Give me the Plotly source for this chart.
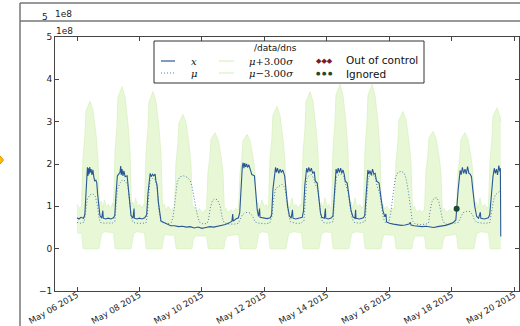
import plotly.graph_objects as go
import pandas as pd

BASE = pd.Timestamp("2015-05-06 00:00")
TITLE = "/data/dns"
Y_TICKS = [-1, 0, 1, 2, 3, 4, 5]
X_TICK_DATES = ["2015-05-06", "2015-05-08", "2015-05-10", "2015-05-12",
                "2015-05-14", "2015-05-16", "2015-05-18", "2015-05-20"]

# (hours after 2015-05-06 00:00, value in units of 1e8)
X_SERIES = [
    (0, 0.73), (1.5, 0.70), (3, 0.74), (5, 0.72), (6, 0.8), (6.8, 1.3), (7.5, 1.75), (8, 1.92), (8.4, 1.72),
    (8.8, 1.9), (9.3, 1.76), (9.8, 1.93), (10.3, 1.8), (10.8, 1.88), (11.5, 1.74), (12.2, 1.86), (13, 1.68),
    (13.6, 1.6), (14.5, 1.62), (15.2, 1.55), (15.8, 1.3), (16.6, 1.0), (17.6, 0.78), (19, 0.72), (19.8, 0.9),
    (20.2, 0.72), (22, 0.70), (24, 0.72), (26, 0.70), (28, 0.73),
    (29, 0.78), (30, 1.3), (31, 1.72), (32, 1.76), (33, 1.8), (33.6, 1.95), (34, 1.74), (34.6, 1.88),
    (35.3, 1.72), (36, 1.84), (37, 1.7), (38.5, 1.72), (39.5, 1.4), (40.5, 1.0), (41.5, 0.78), (43, 0.72),
    (43.8, 0.95), (44.1, 0.72), (46, 0.70), (48, 0.72), (50, 0.70), (52, 0.73),
    (53.5, 0.8), (54.5, 1.3), (55.5, 1.72), (56.2, 1.78), (57, 1.7), (58, 1.76), (59, 1.72), (60, 1.76),
    (60.6, 1.6), (61.5, 1.5), (62.5, 1.1), (63.5, 0.8), (64.5, 0.65), (66, 0.63), (68, 0.60), (70, 0.57),
    (72, 0.54),
    (75, 0.54), (78, 0.52), (81, 0.53), (84, 0.51), (87, 0.52), (90, 0.49), (93, 0.51), (96, 0.48),
    (99, 0.50), (102, 0.52), (105, 0.51), (108, 0.53), (111, 0.54), (114, 0.57), (117, 0.61), (119, 0.65),
    (119.6, 0.82), (120, 0.65), (122, 0.70), (124, 0.73),
    (125, 0.85), (126, 1.5), (127, 1.95), (127.6, 2.03), (128.2, 1.9), (128.8, 2.02), (129.5, 1.93),
    (130.3, 2.0), (131, 1.92), (132, 1.98), (133.3, 1.85), (134.3, 1.75), (136.3, 1.72), (137.4, 1.3),
    (138.4, 0.92), (139.4, 0.76), (140.2, 0.95), (140.6, 0.74), (143, 0.72), (146, 0.71), (148.5, 0.73),
    (149.5, 0.8), (150.5, 1.4), (151.8, 1.85), (152.5, 1.92), (153.2, 1.8), (154, 1.9), (155, 1.78),
    (156, 1.88), (157, 1.8), (158, 1.86), (159.5, 1.72), (160.5, 1.4), (161.8, 1.0), (163.2, 0.77),
    (164.5, 0.72), (165.5, 0.92), (165.9, 0.72), (168, 0.70), (171, 0.72), (173, 0.74),
    (174, 0.9), (175, 1.5), (176.4, 1.9), (177.2, 1.8), (178, 1.92), (179, 1.82), (180, 1.9), (181, 1.78),
    (182.2, 1.82), (183, 1.6), (184.5, 1.55), (185.5, 1.2), (187, 0.85), (188, 0.74), (190, 0.72),
    (190.8, 0.95), (191.1, 0.72), (193, 0.70), (195.5, 0.73), (196.6, 0.78),
    (197.5, 1.3), (199, 1.88), (199.8, 1.78), (200.6, 1.9), (201.5, 1.8), (202.5, 1.9), (203.4, 1.78),
    (204.3, 1.86), (205.3, 1.75), (206, 1.6), (207.5, 1.55), (209, 1.2), (210.5, 0.9), (212, 0.75),
    (213.5, 0.72), (214, 0.92), (214.3, 0.72), (217, 0.70), (220, 0.73), (221, 0.78),
    (222, 1.3), (223.4, 1.86), (224.2, 1.76), (225, 1.84), (226, 1.74), (227, 1.88), (228, 1.76),
    (229, 1.78), (230, 1.6), (232, 1.55), (233.5, 1.2), (235, 0.9), (236.5, 0.75), (237.3, 0.82),
    (237.8, 0.63), (240, 0.60), (243, 0.58),
    (246, 0.56), (249, 0.55), (252, 0.56), (255, 0.58), (256, 0.62), (256.6, 0.56), (259, 0.54),
    (262, 0.53), (265, 0.52), (268, 0.53), (271, 0.51), (274, 0.50), (277, 0.52), (280, 0.53),
    (283, 0.55), (286, 0.58), (289, 0.62), (291, 0.68),
    (291.6, 0.94), (292.8, 1.4), (294.3, 1.85), (295.1, 1.75), (296, 1.92), (297, 1.78), (298, 1.88),
    (299, 1.76), (300, 1.94), (301, 1.78), (302, 1.76), (303, 1.7), (304, 1.4), (305.5, 1.0), (307, 0.76),
    (308.5, 0.72), (309.8, 0.86), (310.2, 0.72), (313, 0.70), (316, 0.73),
    (317, 0.8), (318, 1.2), (319.5, 1.7), (320.5, 1.9), (321.3, 1.78), (322.2, 1.88), (323, 1.74),
    (324, 1.96), (324.8, 1.82), (325.2, 1.9), (325.5, 0.29),
]

MU_SERIES = [
    (0, 0.62), (3, 0.60), (5.5, 0.63), (6.8, 0.9), (8, 1.18), (10, 1.27), (12, 1.3), (14, 1.24),
    (15.5, 1.05), (16.8, 0.75), (18, 0.62), (21, 0.60), (24, 0.61), (27, 0.60), (29, 0.64),
    (30, 1.0), (31, 1.4), (33, 1.55), (35, 1.63), (37, 1.6), (39, 1.5), (40.5, 1.1), (41.8, 0.72),
    (43, 0.62), (46, 0.60), (50, 0.60), (53, 0.61),
    (54, 0.8), (55, 1.35), (56, 1.6), (58, 1.66), (60, 1.64), (61.5, 1.42), (63, 0.9), (64.5, 0.64),
    (67, 0.60), (70, 0.59), (72.5, 0.62),
    (74, 0.78), (75.5, 1.25), (77, 1.58), (79, 1.7), (82, 1.72), (85, 1.68), (87, 1.6), (88.5, 1.45),
    (90, 1.2), (92, 0.85), (94, 0.63), (97, 0.58), (100, 0.6),
    (101, 0.68), (102.5, 0.98), (104, 1.13), (106, 1.18), (108, 1.15), (110, 1.0), (111.5, 0.74),
    (113, 0.61), (117, 0.58), (121, 0.58), (124, 0.60),
    (125.5, 0.7), (127, 0.8), (129, 0.85), (131, 0.86), (133, 0.84), (135, 0.76), (136.8, 0.63),
    (140, 0.60), (144, 0.59), (148, 0.6),
    (149.8, 0.78), (151, 1.15), (152.5, 1.42), (155, 1.48), (157.5, 1.52), (159.5, 1.45), (161, 1.2),
    (162.5, 0.8), (164, 0.63), (168, 0.6), (172, 0.6), (174.3, 0.66),
    (175.2, 1.15), (176.5, 1.65), (178, 1.72), (180, 1.75), (182, 1.65), (183.3, 1.5), (185, 1.4),
    (186.3, 1.0), (187.5, 0.72), (189, 0.62), (193, 0.6), (196.8, 0.64),
    (197.8, 1.2), (199.3, 1.7), (201, 1.74), (203, 1.76), (205, 1.7), (206.3, 1.52), (208.5, 1.3),
    (210, 0.95), (211.3, 0.72), (212.8, 0.62), (217, 0.60), (221.3, 0.64),
    (222.3, 1.15), (223.8, 1.7), (225.5, 1.72), (227.5, 1.75), (229.3, 1.65), (230.5, 1.48), (232.5, 1.3),
    (234, 0.95), (235.3, 0.72), (236.8, 0.62), (239.5, 0.62),
    (241, 0.85), (242.8, 1.35), (244.5, 1.68), (246.5, 1.8), (249, 1.83), (251.5, 1.78), (253, 1.62),
    (254.5, 1.35), (256, 0.95), (257.5, 0.66), (260, 0.58), (264, 0.57), (268, 0.58), (270, 0.6),
    (271, 0.85), (272.5, 1.1), (274.5, 1.2), (276.5, 1.2), (278, 1.1), (279.5, 0.9), (280.8, 0.68),
    (282.5, 0.58), (286, 0.58), (290, 0.6), (293, 0.62),
    (294.5, 0.72), (296.5, 0.85), (299, 0.88), (302, 0.88), (303.8, 0.8), (305.3, 0.68), (307, 0.62),
    (312, 0.6), (317, 0.61),
    (318.5, 0.85), (320, 1.15), (321.5, 1.28), (323, 1.32), (324.5, 1.35), (325.5, 1.33),
]

UPPER_SERIES = [
    (0, 1.05), (1.5, 0.95), (3.5, 1.0), (4.6, 2.14), (6.1, 2.69), (6.9, 3.26), (10, 3.48), (12.3, 3.26),
    (14.6, 2.69), (16.1, 2.14), (17.2, 1.0),
    (18.5, 1.12), (20, 0.95), (21, 1.15), (22.5, 0.98), (24, 1.05), (26, 0.95), (27.5, 1.08),
    (28.1, 1.0), (29.2, 2.30), (30.7, 2.92), (31.5, 3.58), (34.6, 3.83), (36.9, 3.58), (39.2, 2.92),
    (40.7, 2.30), (41.8, 1.0),
    (43, 1.1), (44, 0.95), (45, 1.2), (46.5, 0.98), (48, 1.05), (50, 0.95), (51.5, 1.05),
    (51.9, 1.0), (53, 2.25), (54.5, 2.84), (55.3, 3.47), (58.4, 3.71), (60.7, 3.47), (63, 2.84),
    (64.5, 2.25), (65.6, 1.0),
    (67, 1.05), (68.5, 0.9), (70, 1.0), (72, 0.92), (74, 0.95),
    (74.9, 0.95), (76, 2.00), (77.5, 2.48), (78.3, 2.97), (81.4, 3.17), (83.7, 2.97), (86, 2.48),
    (87.5, 2.00), (88.6, 0.95),
    (90, 1.0), (92, 0.85), (94, 0.95), (96, 0.85), (98, 0.9),
    (99.5, 0.9), (100.6, 1.80), (102.1, 2.18), (102.9, 2.58), (106, 2.74), (108.3, 2.58), (110.6, 2.18),
    (112.1, 1.80), (113.2, 0.9),
    (114.5, 0.95), (116, 0.85), (118, 0.92), (120, 0.88), (122, 0.95), (123.5, 0.9),
    (124.1, 0.95), (125.2, 1.78), (126.7, 2.16), (127.5, 2.55), (130.6, 2.70), (132.9, 2.55),
    (135.2, 2.16), (136.7, 1.78), (137.8, 1.0),
    (139, 1.1), (140.5, 0.95), (142, 1.15), (144, 0.98), (145.5, 1.05), (146.5, 0.95),
    (147.1, 1.0), (148.2, 2.09), (149.7, 2.60), (150.5, 3.15), (153.6, 3.36), (155.9, 3.15),
    (158.2, 2.60), (159.7, 2.09), (160.8, 1.0),
    (162, 1.1), (163.5, 0.95), (165, 1.2), (166.5, 0.98), (168, 1.05), (170, 0.95), (171.5, 1.05),
    (172.5, 1.0), (173.6, 2.25), (175.1, 2.84), (175.9, 3.47), (179, 3.71), (181.3, 3.47), (183.6, 2.84),
    (185.1, 2.25), (186.2, 1.0),
    (187.5, 1.1), (189, 0.95), (190.5, 1.2), (192, 0.98), (193.5, 1.05), (194.5, 0.95),
    (195.5, 1.0), (196.6, 2.32), (198.1, 2.96), (198.9, 3.62), (202, 3.88), (204.3, 3.62), (206.6, 2.96),
    (208.1, 2.32), (209.2, 1.0),
    (210.5, 1.1), (212, 0.95), (213.5, 1.2), (215, 0.98), (217, 1.05), (219, 0.95),
    (220.1, 1.0), (221.2, 2.32), (222.7, 2.96), (223.5, 3.62), (226.6, 3.88), (228.9, 3.62),
    (231.2, 2.96), (232.7, 2.32), (233.8, 1.0),
    (235, 1.05), (236.5, 0.92), (238, 1.0), (240, 0.9), (242, 0.95),
    (243.9, 0.95), (245, 2.03), (246.5, 2.52), (247.3, 3.04), (250.4, 3.24), (252.7, 3.04), (255, 2.52),
    (256.5, 2.03), (257.6, 0.95),
    (259, 1.0), (261, 0.85), (263, 0.92), (265, 0.85), (266, 0.9),
    (266.9, 0.9), (268, 1.81), (269.5, 2.20), (270.3, 2.61), (273.4, 2.77), (275.7, 2.61), (278, 2.20),
    (279.5, 1.81), (280.6, 0.9),
    (282, 0.95), (284, 0.85), (286, 0.92), (288, 0.88), (290, 0.95),
    (291.5, 0.95), (292.6, 1.80), (294.1, 2.18), (294.9, 2.58), (298, 2.74), (300.3, 2.58), (302.6, 2.18),
    (304.1, 1.80), (305.2, 1.0),
    (306.5, 1.1), (308, 0.95), (309.5, 1.2), (311, 0.98), (313, 1.05), (315, 0.95),
    (316.1, 1.0), (317.2, 2.07), (318.7, 2.58), (319.5, 3.12), (322.6, 3.33), (324.9, 3.12), (325.5, 3.0),
]

LOWER_SERIES = [
    (0, 0.38), (2, 0.36), (3.5, 0.38), (4.2, 0.15), (4.8, 0), (16.8, 0), (17.5, 0.15), (19, 0.36), (21, 0.4),
    (28.1, 0.38), (28.8, 0.15), (29.4, 0), (41.4, 0), (42.1, 0.15), (43.6, 0.36), (46, 0.4),
    (51.9, 0.38), (52.6, 0.15), (53.2, 0), (65.2, 0), (65.9, 0.15), (67.4, 0.34), (70, 0.32),
    (74.9, 0.32), (75.6, 0.15), (76.2, 0), (88.2, 0), (88.9, 0.15), (90.4, 0.3), (95, 0.3),
    (99.5, 0.3), (100.2, 0.15), (100.8, 0), (112.8, 0), (113.5, 0.15), (115, 0.3), (119, 0.32),
    (124.1, 0.34), (124.8, 0.15), (125.4, 0), (137.4, 0), (138.1, 0.15), (139.6, 0.36), (142, 0.4),
    (147.1, 0.38), (147.8, 0.15), (148.4, 0), (160.4, 0), (161.1, 0.15), (162.6, 0.36), (166, 0.4),
    (172.5, 0.38), (173.2, 0.15), (173.8, 0), (185.8, 0), (186.5, 0.15), (188, 0.36), (191, 0.4),
    (195.5, 0.38), (196.2, 0.15), (196.8, 0), (208.8, 0), (209.5, 0.15), (211, 0.36), (214, 0.4),
    (220.1, 0.38), (220.8, 0.15), (221.4, 0), (233.4, 0), (234.1, 0.15), (235.6, 0.34), (239, 0.32),
    (243.9, 0.32), (244.6, 0.15), (245.2, 0), (257.2, 0), (257.9, 0.15), (259.4, 0.3), (263, 0.3),
    (266.9, 0.3), (267.6, 0.15), (268.2, 0), (280.2, 0), (280.9, 0.15), (282.4, 0.3), (287, 0.32),
    (291.5, 0.34), (292.2, 0.15), (292.8, 0), (304.8, 0), (305.5, 0.15), (307, 0.36), (310, 0.4),
    (316.1, 0.38), (316.8, 0.15), (317.4, 0), (325.5, 0),
]

IGNORED = [(291.6, 0.94)]
OUT_OF_CONTROL = []

X_RANGE_HOURS = [-16.9, 339.5]


def split(points):
    hours = [p[0] for p in points]
    vals = [p[1] for p in points]
    return [BASE + pd.Timedelta(hours=h) for h in hours], vals


X_COLOR = "#2a5894"
MU_COLOR = "#4f7eae"
BAND_LINE = "#d9f1c2"
BAND_FILL = "#e8f8d6"

fig = go.Figure()
t, v = split(LOWER_SERIES)
fig.add_trace(go.Scatter(x=t, y=v, mode="lines", line=dict(color=BAND_LINE, width=0.8),
                         name="μ−3.00σ", hoverinfo="skip"))
t, v = split(UPPER_SERIES)
fig.add_trace(go.Scatter(x=t, y=v, mode="lines", line=dict(color=BAND_LINE, width=0.8),
                         fill="tonexty", fillcolor=BAND_FILL, name="μ+3.00σ", hoverinfo="skip"))
t, v = split(MU_SERIES)
fig.add_trace(go.Scatter(x=t, y=v, mode="lines", line=dict(color=MU_COLOR, width=1, dash="1px,2px"),
                         name="μ"))
t, v = split(X_SERIES)
fig.add_trace(go.Scatter(x=t, y=v, mode="lines", line=dict(color=X_COLOR, width=1.1), name="x"))
t, v = split(IGNORED)
fig.add_trace(go.Scatter(x=t, y=v, mode="markers", marker=dict(color="#1d4a33", size=6), name="Ignored"))
if OUT_OF_CONTROL:
    t, v = split(OUT_OF_CONTROL)
    fig.add_trace(go.Scatter(x=t, y=v, mode="markers",
                             marker=dict(color="#7b1c2c", size=7, symbol="diamond"), name="Out of control"))

TICK_FONT = dict(family="DejaVu Sans", size=9, color="#222")
AX_COMMON = dict(showline=True, linecolor="#444", linewidth=1, mirror="ticks", ticks="inside",
                 ticklen=4, tickcolor="#444", showgrid=False, zeroline=False,
                 automargin=False)

fig.update_layout(
    width=520, height=326, margin=dict(l=55, r=1, t=37, b=35),
    paper_bgcolor="white", plot_bgcolor="white", showlegend=False,
    xaxis=dict(type="date",
               range=[BASE + pd.Timedelta(hours=X_RANGE_HOURS[0]), BASE + pd.Timedelta(hours=X_RANGE_HOURS[1])],
               tickvals=X_TICK_DATES, tickformat="%b %d %Y", tickangle=-30, ticklabelstandoff=-5,
               tickfont=dict(family="DejaVu Sans", size=8.5, color="#222"), **AX_COMMON),
    yaxis=dict(range=[-1, 5], tickvals=Y_TICKS, tickfont=TICK_FONT, **AX_COMMON),
)


def px(x):
    return (x - 55) / 464


def py(y):
    return (291 - y) / 254


shapes = []
anns = []
# ghost outer frame
shapes.append(dict(type="line", xref="paper", yref="paper", x0=px(20), x1=px(540), y0=py(3), y1=py(3),
                   line=dict(color="#777", width=1.5)))
shapes.append(dict(type="line", xref="paper", yref="paper", x0=px(20), x1=px(540), y0=py(21), y1=py(21),
                   line=dict(color="#777", width=1.5)))
shapes.append(dict(type="line", xref="paper", yref="paper", x0=px(20), x1=px(20), y0=py(3), y1=py(340),
                   line=dict(color="#777", width=1.5)))
anns.append(dict(text="5", xref="paper", yref="paper", x=px(50), y=py(17), xanchor="right", yanchor="middle",
                 showarrow=False, font=TICK_FONT))
anns.append(dict(text="1e8", xref="paper", yref="paper", x=px(53), y=py(14), xanchor="left", yanchor="middle",
                 showarrow=False, font=TICK_FONT))
anns.append(dict(text="1e8", xref="paper", yref="paper", x=px(54), y=py(31), xanchor="left", yanchor="middle",
                 showarrow=False, font=TICK_FONT))
# orange marker at left edge
shapes.append(dict(type="path", xref="paper", yref="paper",
                   path=f"M {px(0)},{py(156)} L {px(3.5)},{py(160)} L {px(0)},{py(164)} L {px(-3.5)},{py(160)} Z",
                   fillcolor="#f5c400", line=dict(color="#e08a00", width=1)))

# legend
shapes.append(dict(type="rect", xref="paper", yref="paper", x0=px(154), x1=px(424), y0=py(83), y1=py(41),
                   fillcolor="white", line=dict(color="#333", width=1)))
r1, r2 = 61, 73
shapes.append(dict(type="line", xref="paper", yref="paper", x0=px(161), x1=px(175), y0=py(r1), y1=py(r1),
                   line=dict(color=X_COLOR, width=1.2)))
shapes.append(dict(type="line", xref="paper", yref="paper", x0=px(161), x1=px(175), y0=py(r2), y1=py(r2),
                   line=dict(color=MU_COLOR, width=1, dash="1px,2px")))
shapes.append(dict(type="line", xref="paper", yref="paper", x0=px(219), x1=px(234), y0=py(r1), y1=py(r1),
                   line=dict(color=BAND_LINE, width=1.2)))
shapes.append(dict(type="line", xref="paper", yref="paper", x0=px(219), x1=px(234), y0=py(r2), y1=py(r2),
                   line=dict(color=BAND_LINE, width=1.2)))
MATH = dict(family="DejaVu Serif", size=10, color="#111")
anns.append(dict(text=TITLE, xref="paper", yref="paper", x=px(275), y=py(48), xanchor="center", yanchor="middle",
                 showarrow=False, font=dict(family="DejaVu Sans", size=9, color="#111")))
anns.append(dict(text="<i>x</i>", xref="paper", yref="paper", x=px(189), y=py(r1), xanchor="left",
                 yanchor="middle", showarrow=False, font=MATH))
anns.append(dict(text="<i>μ</i>", xref="paper", yref="paper", x=px(189), y=py(r2), xanchor="left",
                 yanchor="middle", showarrow=False, font=MATH))
anns.append(dict(text="<i>μ</i>+3.00<i>σ</i>", xref="paper", yref="paper", x=px(247), y=py(r1), xanchor="left",
                 yanchor="middle", showarrow=False, font=MATH))
anns.append(dict(text="<i>μ</i>−3.00<i>σ</i>", xref="paper", yref="paper", x=px(247), y=py(r2), xanchor="left",
                 yanchor="middle", showarrow=False, font=MATH))
anns.append(dict(text="◆◆◆", xref="paper", yref="paper", x=px(324), y=py(r1), xanchor="center",
                 yanchor="middle", showarrow=False, font=dict(family="DejaVu Sans", size=7, color="#7b1c2c")))
anns.append(dict(text="● ● ●", xref="paper", yref="paper", x=px(324), y=py(r2), xanchor="center",
                 yanchor="middle", showarrow=False, font=dict(family="DejaVu Sans", size=5, color="#1d4a33")))
LEG_FONT = dict(family="DejaVu Sans", size=10.5, color="#111")
anns.append(dict(text="Out of control", xref="paper", yref="paper", x=px(344), y=py(r1 - 0.5), xanchor="left",
                 yanchor="middle", showarrow=False, font=LEG_FONT))
anns.append(dict(text="Ignored", xref="paper", yref="paper", x=px(344), y=py(r2 + 0.5), xanchor="left",
                 yanchor="middle", showarrow=False, font=LEG_FONT))

fig.update_layout(shapes=shapes, annotations=anns)
fig.write_html("out.html", config={"displayModeBar": False},
               post_script="document.body.style.margin='0';document.body.style.overflow='hidden';")
